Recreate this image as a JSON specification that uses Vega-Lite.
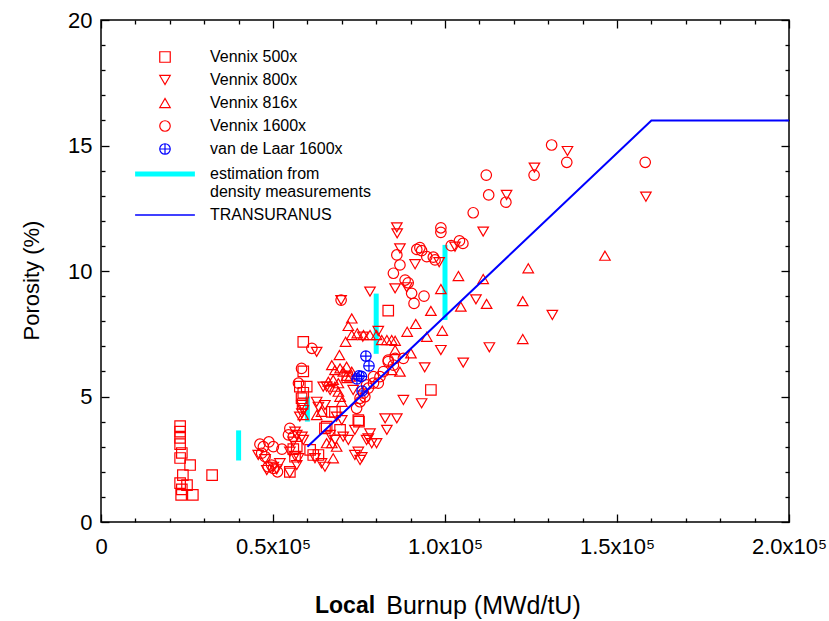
{
  "$schema": "https://vega.github.io/schema/vega-lite/v6.json",
  "width": 688,
  "height": 502,
  "autosize": {"type": "none"},
  "padding": {"left": 101, "top": 20, "right": 40, "bottom": 99},
  "background": "white",
  "config": {
    "view": {"stroke": "black", "strokeWidth": 1.5},
    "axis": {"labelFont": "Liberation Sans", "titleFont": "Liberation Sans", "labelColor": "black", "titleColor": "black", "tickColor": "black", "tickWidth": 1.3, "grid": false, "domain": false, "labelFlush": false, "labelOverlap": false, "titleFontWeight": "normal"},
    "legend": {"orient": "none", "legendX": 56, "legendY": 29, "padding": 0, "labelFont": "Liberation Sans", "labelFontSize": 16, "labelColor": "black", "labelOffset": 37, "rowPadding": 7, "symbolSize": 110, "symbolOffset": 0, "labelLimit": 400}
  },
  "title": {"text": "Local", "orient": "bottom", "anchor": "start", "frame": "group", "dx": 214, "offset": -5, "fontSize": 23, "fontWeight": "bold", "font": "Liberation Sans", "color": "black", "baseline": "alphabetic"},
  "datasets": {
    "pts": [
      {"s": "Vennix 500x", "x": 23000, "y": 3.82}, {"s": "Vennix 500x", "x": 23000, "y": 3.6}, {"s": "Vennix 500x", "x": 23000, "y": 3.35}, {"s": "Vennix 500x", "x": 23000, "y": 3.1}, {"s": "Vennix 500x", "x": 23500, "y": 2.75}, {"s": "Vennix 500x", "x": 23000, "y": 2.55}, {"s": "Vennix 500x", "x": 25900, "y": 2.27}, {"s": "Vennix 500x", "x": 23800, "y": 1.87}, {"s": "Vennix 500x", "x": 23000, "y": 1.55}, {"s": "Vennix 500x", "x": 25000, "y": 1.47}, {"s": "Vennix 500x", "x": 23500, "y": 1.3}, {"s": "Vennix 500x", "x": 23300, "y": 1.08}, {"s": "Vennix 500x", "x": 26700, "y": 1.08}, {"s": "Vennix 500x", "x": 32300, "y": 1.87},
      {"s": "Vennix 500x", "x": 54900, "y": 2.0}, {"s": "Vennix 500x", "x": 58800, "y": 7.18}, {"s": "Vennix 500x", "x": 58800, "y": 6.0}, {"s": "Vennix 500x", "x": 57800, "y": 5.39}, {"s": "Vennix 500x", "x": 59800, "y": 5.39}, {"s": "Vennix 500x", "x": 58800, "y": 5.15}, {"s": "Vennix 500x", "x": 58300, "y": 4.93}, {"s": "Vennix 500x", "x": 58600, "y": 4.7},
      {"s": "Vennix 500x", "x": 71600, "y": 5.76}, {"s": "Vennix 500x", "x": 67100, "y": 4.39}, {"s": "Vennix 500x", "x": 68000, "y": 4.39}, {"s": "Vennix 500x", "x": 65600, "y": 3.8}, {"s": "Vennix 500x", "x": 65100, "y": 3.73}, {"s": "Vennix 500x", "x": 69500, "y": 3.67}, {"s": "Vennix 500x", "x": 56900, "y": 3.0}, {"s": "Vennix 500x", "x": 60800, "y": 2.87}, {"s": "Vennix 500x", "x": 63200, "y": 2.67}, {"s": "Vennix 500x", "x": 61700, "y": 2.67}, {"s": "Vennix 500x", "x": 55900, "y": 2.9}, {"s": "Vennix 500x", "x": 56400, "y": 2.6},
      {"s": "Vennix 500x", "x": 74800, "y": 4.06}, {"s": "Vennix 500x", "x": 75000, "y": 4.0}, {"s": "Vennix 500x", "x": 83500, "y": 8.42}, {"s": "Vennix 500x", "x": 95900, "y": 5.26},
      {"s": "Vennix 800x", "x": 45700, "y": 2.67}, {"s": "Vennix 800x", "x": 47700, "y": 2.5}, {"s": "Vennix 800x", "x": 50100, "y": 2.2}, {"s": "Vennix 800x", "x": 51100, "y": 2.1}, {"s": "Vennix 800x", "x": 48200, "y": 2.07}, {"s": "Vennix 800x", "x": 52000, "y": 2.34}, {"s": "Vennix 800x", "x": 54900, "y": 1.96}, {"s": "Vennix 800x", "x": 56900, "y": 2.27}, {"s": "Vennix 800x", "x": 54900, "y": 2.8}, {"s": "Vennix 800x", "x": 56400, "y": 2.63}, {"s": "Vennix 800x", "x": 57400, "y": 2.54}, {"s": "Vennix 800x", "x": 55900, "y": 3.2}, {"s": "Vennix 800x", "x": 58800, "y": 3.27}, {"s": "Vennix 800x", "x": 56900, "y": 3.47}, {"s": "Vennix 800x", "x": 56400, "y": 3.6}, {"s": "Vennix 800x", "x": 58400, "y": 3.4},
      {"s": "Vennix 800x", "x": 58400, "y": 4.66}, {"s": "Vennix 800x", "x": 58400, "y": 4.33}, {"s": "Vennix 800x", "x": 57800, "y": 4.2}, {"s": "Vennix 800x", "x": 58800, "y": 4.46}, {"s": "Vennix 800x", "x": 62700, "y": 4.79}, {"s": "Vennix 800x", "x": 65100, "y": 4.66}, {"s": "Vennix 800x", "x": 63200, "y": 4.59}, {"s": "Vennix 800x", "x": 65600, "y": 5.39}, {"s": "Vennix 800x", "x": 66600, "y": 5.26}, {"s": "Vennix 800x", "x": 64600, "y": 5.39}, {"s": "Vennix 800x", "x": 73300, "y": 5.26}, {"s": "Vennix 800x", "x": 68500, "y": 4.2}, {"s": "Vennix 800x", "x": 70000, "y": 4.06}, {"s": "Vennix 800x", "x": 66600, "y": 3.47}, {"s": "Vennix 800x", "x": 68000, "y": 3.27}, {"s": "Vennix 800x", "x": 64100, "y": 2.34}, {"s": "Vennix 800x", "x": 65100, "y": 2.2}, {"s": "Vennix 800x", "x": 62200, "y": 2.54}, {"s": "Vennix 800x", "x": 70400, "y": 3.4}, {"s": "Vennix 800x", "x": 71900, "y": 3.27}, {"s": "Vennix 800x", "x": 73800, "y": 2.67}, {"s": "Vennix 800x", "x": 75300, "y": 2.47}, {"s": "Vennix 800x", "x": 77200, "y": 3.27}, {"s": "Vennix 800x", "x": 78700, "y": 3.14}, {"s": "Vennix 800x", "x": 82600, "y": 4.13}, {"s": "Vennix 800x", "x": 86000, "y": 4.13}, {"s": "Vennix 800x", "x": 83100, "y": 3.67}, {"s": "Vennix 800x", "x": 77700, "y": 3.33}, {"s": "Vennix 800x", "x": 80100, "y": 3.14}, {"s": "Vennix 800x", "x": 73800, "y": 3.67}, {"s": "Vennix 800x", "x": 78200, "y": 3.53}, {"s": "Vennix 800x", "x": 74800, "y": 2.8}, {"s": "Vennix 800x", "x": 75800, "y": 2.58}, {"s": "Vennix 800x", "x": 87900, "y": 4.86}, {"s": "Vennix 800x", "x": 93200, "y": 4.73}, {"s": "Vennix 800x", "x": 62700, "y": 6.78}, {"s": "Vennix 800x", "x": 76100, "y": 7.38}, {"s": "Vennix 800x", "x": 80600, "y": 7.61}, {"s": "Vennix 800x", "x": 78200, "y": 9.18}, {"s": "Vennix 800x", "x": 69800, "y": 8.84},
      {"s": "Vennix 800x", "x": 86000, "y": 11.74}, {"s": "Vennix 800x", "x": 86100, "y": 11.5}, {"s": "Vennix 800x", "x": 86900, "y": 10.9}, {"s": "Vennix 800x", "x": 91300, "y": 10.27}, {"s": "Vennix 800x", "x": 98300, "y": 10.35}, {"s": "Vennix 800x", "x": 88900, "y": 9.35}, {"s": "Vennix 800x", "x": 85500, "y": 9.31}, {"s": "Vennix 800x", "x": 102900, "y": 10.97}, {"s": "Vennix 800x", "x": 111100, "y": 11.57}, {"s": "Vennix 800x", "x": 109000, "y": 8.87}, {"s": "Vennix 800x", "x": 117900, "y": 13.03}, {"s": "Vennix 800x", "x": 126000, "y": 14.12}, {"s": "Vennix 800x", "x": 135600, "y": 14.78}, {"s": "Vennix 800x", "x": 158400, "y": 12.96}, {"s": "Vennix 800x", "x": 131200, "y": 8.25}, {"s": "Vennix 800x", "x": 98800, "y": 6.85}, {"s": "Vennix 800x", "x": 112900, "y": 6.96}, {"s": "Vennix 800x", "x": 105300, "y": 6.35}, {"s": "Vennix 800x", "x": 94100, "y": 6.16},
      {"s": "Vennix 816x", "x": 72900, "y": 8.11}, {"s": "Vennix 816x", "x": 71900, "y": 7.81}, {"s": "Vennix 816x", "x": 72900, "y": 7.45}, {"s": "Vennix 816x", "x": 74500, "y": 7.52}, {"s": "Vennix 816x", "x": 76300, "y": 7.45}, {"s": "Vennix 816x", "x": 78200, "y": 7.45}, {"s": "Vennix 816x", "x": 80100, "y": 7.45}, {"s": "Vennix 816x", "x": 81600, "y": 7.25}, {"s": "Vennix 816x", "x": 83100, "y": 7.25}, {"s": "Vennix 816x", "x": 84500, "y": 7.25}, {"s": "Vennix 816x", "x": 85500, "y": 7.22}, {"s": "Vennix 816x", "x": 71100, "y": 7.18}, {"s": "Vennix 816x", "x": 85500, "y": 6.85}, {"s": "Vennix 816x", "x": 90100, "y": 6.72}, {"s": "Vennix 816x", "x": 69300, "y": 6.65}, {"s": "Vennix 816x", "x": 67100, "y": 6.25}, {"s": "Vennix 816x", "x": 69500, "y": 6.12}, {"s": "Vennix 816x", "x": 71400, "y": 6.19}, {"s": "Vennix 816x", "x": 68000, "y": 6.05}, {"s": "Vennix 816x", "x": 70400, "y": 5.99}, {"s": "Vennix 816x", "x": 72900, "y": 5.99}, {"s": "Vennix 816x", "x": 71400, "y": 5.82}, {"s": "Vennix 816x", "x": 72400, "y": 5.79}, {"s": "Vennix 816x", "x": 86900, "y": 5.99}, {"s": "Vennix 816x", "x": 84500, "y": 6.05}, {"s": "Vennix 816x", "x": 66100, "y": 5.59}, {"s": "Vennix 816x", "x": 67500, "y": 5.66}, {"s": "Vennix 816x", "x": 68000, "y": 5.39}, {"s": "Vennix 816x", "x": 69000, "y": 5.53}, {"s": "Vennix 816x", "x": 69000, "y": 5.19}, {"s": "Vennix 816x", "x": 69500, "y": 4.99}, {"s": "Vennix 816x", "x": 70000, "y": 4.79}, {"s": "Vennix 816x", "x": 58800, "y": 4.26}, {"s": "Vennix 816x", "x": 62700, "y": 4.26}, {"s": "Vennix 816x", "x": 64100, "y": 4.39}, {"s": "Vennix 816x", "x": 67100, "y": 3.14}, {"s": "Vennix 816x", "x": 68500, "y": 3.0}, {"s": "Vennix 816x", "x": 67500, "y": 2.54}, {"s": "Vennix 816x", "x": 65600, "y": 3.14}, {"s": "Vennix 816x", "x": 91500, "y": 7.89}, {"s": "Vennix 816x", "x": 89000, "y": 7.58},
      {"s": "Vennix 816x", "x": 146500, "y": 10.61}, {"s": "Vennix 816x", "x": 124200, "y": 10.11}, {"s": "Vennix 816x", "x": 103900, "y": 9.8}, {"s": "Vennix 816x", "x": 111100, "y": 9.68}, {"s": "Vennix 816x", "x": 98800, "y": 9.28}, {"s": "Vennix 816x", "x": 122600, "y": 8.8}, {"s": "Vennix 816x", "x": 112100, "y": 8.69}, {"s": "Vennix 816x", "x": 104600, "y": 8.58}, {"s": "Vennix 816x", "x": 95900, "y": 8.41}, {"s": "Vennix 816x", "x": 99200, "y": 7.62}, {"s": "Vennix 816x", "x": 94700, "y": 7.38}, {"s": "Vennix 816x", "x": 122600, "y": 7.29},
      {"s": "Vennix 1600x", "x": 46200, "y": 3.1}, {"s": "Vennix 1600x", "x": 48800, "y": 3.19}, {"s": "Vennix 1600x", "x": 52600, "y": 2.9}, {"s": "Vennix 1600x", "x": 47200, "y": 3.0}, {"s": "Vennix 1600x", "x": 46700, "y": 2.74}, {"s": "Vennix 1600x", "x": 47700, "y": 2.6}, {"s": "Vennix 1600x", "x": 48600, "y": 2.2}, {"s": "Vennix 1600x", "x": 50100, "y": 2.14}, {"s": "Vennix 1600x", "x": 49600, "y": 2.27}, {"s": "Vennix 1600x", "x": 51300, "y": 2.0}, {"s": "Vennix 1600x", "x": 50100, "y": 3.0}, {"s": "Vennix 1600x", "x": 54900, "y": 3.73}, {"s": "Vennix 1600x", "x": 54500, "y": 3.47}, {"s": "Vennix 1600x", "x": 55900, "y": 3.4},
      {"s": "Vennix 1600x", "x": 58300, "y": 6.12}, {"s": "Vennix 1600x", "x": 57400, "y": 5.53}, {"s": "Vennix 1600x", "x": 61300, "y": 6.92}, {"s": "Vennix 1600x", "x": 69800, "y": 8.84}, {"s": "Vennix 1600x", "x": 74300, "y": 4.53}, {"s": "Vennix 1600x", "x": 75300, "y": 4.79}, {"s": "Vennix 1600x", "x": 76300, "y": 5.13}, {"s": "Vennix 1600x", "x": 77700, "y": 5.33}, {"s": "Vennix 1600x", "x": 79200, "y": 5.53}, {"s": "Vennix 1600x", "x": 83500, "y": 6.45}, {"s": "Vennix 1600x", "x": 83500, "y": 6.39}, {"s": "Vennix 1600x", "x": 85000, "y": 6.25}, {"s": "Vennix 1600x", "x": 82100, "y": 5.99}, {"s": "Vennix 1600x", "x": 81100, "y": 5.79}, {"s": "Vennix 1600x", "x": 79200, "y": 5.79}, {"s": "Vennix 1600x", "x": 80600, "y": 5.53}, {"s": "Vennix 1600x", "x": 77200, "y": 5.46}, {"s": "Vennix 1600x", "x": 76700, "y": 4.99}, {"s": "Vennix 1600x", "x": 75300, "y": 4.93}, {"s": "Vennix 1600x", "x": 85500, "y": 6.52}, {"s": "Vennix 1600x", "x": 87900, "y": 6.52},
      {"s": "Vennix 1600x", "x": 86000, "y": 10.64}, {"s": "Vennix 1600x", "x": 86900, "y": 10.24}, {"s": "Vennix 1600x", "x": 85000, "y": 9.91}, {"s": "Vennix 1600x", "x": 88400, "y": 9.64}, {"s": "Vennix 1600x", "x": 89300, "y": 9.53}, {"s": "Vennix 1600x", "x": 90300, "y": 9.11}, {"s": "Vennix 1600x", "x": 91000, "y": 8.71}, {"s": "Vennix 1600x", "x": 93900, "y": 9.0}, {"s": "Vennix 1600x", "x": 91800, "y": 10.86}, {"s": "Vennix 1600x", "x": 92700, "y": 10.93}, {"s": "Vennix 1600x", "x": 93200, "y": 10.81}, {"s": "Vennix 1600x", "x": 94700, "y": 10.57}, {"s": "Vennix 1600x", "x": 96600, "y": 10.55}, {"s": "Vennix 1600x", "x": 97100, "y": 10.44}, {"s": "Vennix 1600x", "x": 98800, "y": 11.72}, {"s": "Vennix 1600x", "x": 98800, "y": 11.54}, {"s": "Vennix 1600x", "x": 101800, "y": 11.01}, {"s": "Vennix 1600x", "x": 104200, "y": 11.2}, {"s": "Vennix 1600x", "x": 105200, "y": 11.1}, {"s": "Vennix 1600x", "x": 108200, "y": 12.32}, {"s": "Vennix 1600x", "x": 112000, "y": 13.82}, {"s": "Vennix 1600x", "x": 112700, "y": 13.03}, {"s": "Vennix 1600x", "x": 117700, "y": 12.74}, {"s": "Vennix 1600x", "x": 125900, "y": 13.82}, {"s": "Vennix 1600x", "x": 131000, "y": 15.02}, {"s": "Vennix 1600x", "x": 135400, "y": 14.33}, {"s": "Vennix 1600x", "x": 158200, "y": 14.33},
      {"s": "van de Laar 1600x", "x": 77000, "y": 6.61}, {"s": "van de Laar 1600x", "x": 77900, "y": 6.22}, {"s": "van de Laar 1600x", "x": 75000, "y": 5.82}, {"s": "van de Laar 1600x", "x": 74400, "y": 5.7}, {"s": "van de Laar 1600x", "x": 75700, "y": 5.8}, {"s": "van de Laar 1600x", "x": 75900, "y": 5.22}
    ],
    "est": [
      {"x": 40000, "lo": 2.45, "hi": 3.65},
      {"x": 60000, "lo": 4.0, "hi": 5.0},
      {"x": 80000, "lo": 6.7, "hi": 9.1},
      {"x": 100000, "lo": 8.05, "hi": 11.04}
    ],
    "tu": [
      {"x": 60000, "y": 3},
      {"x": 160000, "y": 16},
      {"x": 200000, "y": 16}
    ]
  },
  "resolve": {"axis": {"x": "independent", "y": "independent"}},
  "layer": [
    {
      "data": {"name": "est"},
      "mark": {"type": "rule", "color": "#00ffff", "strokeWidth": 5},
      "encoding": {
        "x": {"field": "x", "type": "quantitative", "scale": {"domain": [0, 200000], "nice": false}, "axis": null},
        "y": {"field": "lo", "type": "quantitative", "scale": {"domain": [0, 20], "nice": false}, "axis": null},
        "y2": {"field": "hi"}
      }
    },
    {
      "data": {"name": "pts"},
      "mark": {"type": "point", "filled": false, "size": 110, "opacity": 1},
      "encoding": {
        "x": {"field": "x", "type": "quantitative", "scale": {"domain": [0, 200000], "nice": false},
          "axis": {"orient": "bottom", "values": [0, 10000, 20000, 30000, 40000, 50000, 60000, 70000, 80000, 90000, 100000, 110000, 120000, 130000, 140000, 150000, 160000, 170000, 180000, 190000, 200000],
            "tickSize": {"condition": {"test": "datum.value % 50000 === 0", "value": -8}, "value": -4},
            "labelExpr": "datum.value === 0 ? '0' : (datum.value % 50000 === 0 ? format(datum.value / 100000, '.1f') + 'x10⁵' : '')",
            "labelPadding": 22, "labelFontSize": 22,
            "title": "Burnup (MWd/tU)", "titleFontSize": 25, "titleX": 382, "titleY": 91, "titleBaseline": "alphabetic", "titleAlign": "center"}},
        "y": {"field": "y", "type": "quantitative", "scale": {"domain": [0, 20], "nice": false},
          "axis": {"orient": "left", "values": [0, 1, 2, 3, 4, 5, 6, 7, 8, 9, 10, 11, 12, 13, 14, 15, 16, 17, 18, 19, 20],
            "tickSize": {"condition": {"test": "datum.value % 5 === 0", "value": -8}, "value": -4},
            "labelExpr": "datum.value % 5 === 0 ? datum.label : ''",
            "labelPadding": 17, "labelFontSize": 22,
            "title": "Porosity (%)", "titleFontSize": 22, "titleX": -63, "titleY": 260, "titleBaseline": "alphabetic", "titleAlign": "center"}},
        "shape": {"field": "s", "type": "nominal",
          "scale": {"domain": ["Vennix 500x", "Vennix 800x", "Vennix 816x", "Vennix 1600x", "van de Laar 1600x", "estimation from density measurements", "TRANSURANUS"],
            "range": ["square", "triangle-down", "triangle-up", "circle", "M-1,0A1,1,0,1,1,1,0A1,1,0,1,1,-1,0ZM-1,0H1M0,-1V1", "M-5.7,0H5.7", "M-5.7,0H5.7"]},
          "legend": {"title": null, "labelExpr": "datum.label == 'estimation from density measurements' ? ['estimation from', 'density measurements'] : datum.label"}},
        "color": {"field": "s", "type": "nominal",
          "scale": {"domain": ["Vennix 500x", "Vennix 800x", "Vennix 816x", "Vennix 1600x", "van de Laar 1600x", "estimation from density measurements", "TRANSURANUS"],
            "range": ["#ff0000", "#ff0000", "#ff0000", "#ff0000", "#0000ff", "#00ffff", "#0000ff"]},
          "legend": {"title": null, "labelExpr": "datum.label == 'estimation from density measurements' ? ['estimation from', 'density measurements'] : datum.label"}},
        "strokeWidth": {"field": "s", "type": "nominal",
          "scale": {"type": "ordinal", "domain": ["Vennix 500x", "Vennix 800x", "Vennix 816x", "Vennix 1600x", "van de Laar 1600x", "estimation from density measurements", "TRANSURANUS"],
            "range": [1.2, 1.2, 1.2, 1.2, 1.2, 5, 1.5]},
          "legend": {"title": null, "labelExpr": "datum.label == 'estimation from density measurements' ? ['estimation from', 'density measurements'] : datum.label"}}
      }
    },
    {
      "data": {"name": "tu"},
      "mark": {"type": "line", "color": "#0000ff", "strokeWidth": 2},
      "encoding": {
        "x": {"field": "x", "type": "quantitative", "scale": {"domain": [0, 200000], "nice": false},
          "axis": {"orient": "top", "values": [0, 10000, 20000, 30000, 40000, 50000, 60000, 70000, 80000, 90000, 100000, 110000, 120000, 130000, 140000, 150000, 160000, 170000, 180000, 190000, 200000],
            "tickSize": {"condition": {"test": "datum.value % 50000 === 0", "value": -8}, "value": -4},
            "labels": false, "title": null}},
        "y": {"field": "y", "type": "quantitative", "scale": {"domain": [0, 20], "nice": false},
          "axis": {"orient": "right", "values": [0, 1, 2, 3, 4, 5, 6, 7, 8, 9, 10, 11, 12, 13, 14, 15, 16, 17, 18, 19, 20],
            "tickSize": {"condition": {"test": "datum.value % 5 === 0", "value": -8}, "value": -4},
            "labels": false, "title": null}}
      }
    },
    {
      "mark": {"type": "text", "text": "a)", "font": "Liberation Sans", "fontSize": 20, "fontWeight": "bold", "color": "black", "align": "center", "baseline": "middle"},
      "encoding": {
        "x": {"datum": 97000, "type": "quantitative", "scale": {"domain": [0, 200000], "nice": false}, "axis": null},
        "y": {"datum": 18.5, "type": "quantitative", "scale": {"domain": [0, 20], "nice": false}, "axis": null}
      }
    }
  ]
}
